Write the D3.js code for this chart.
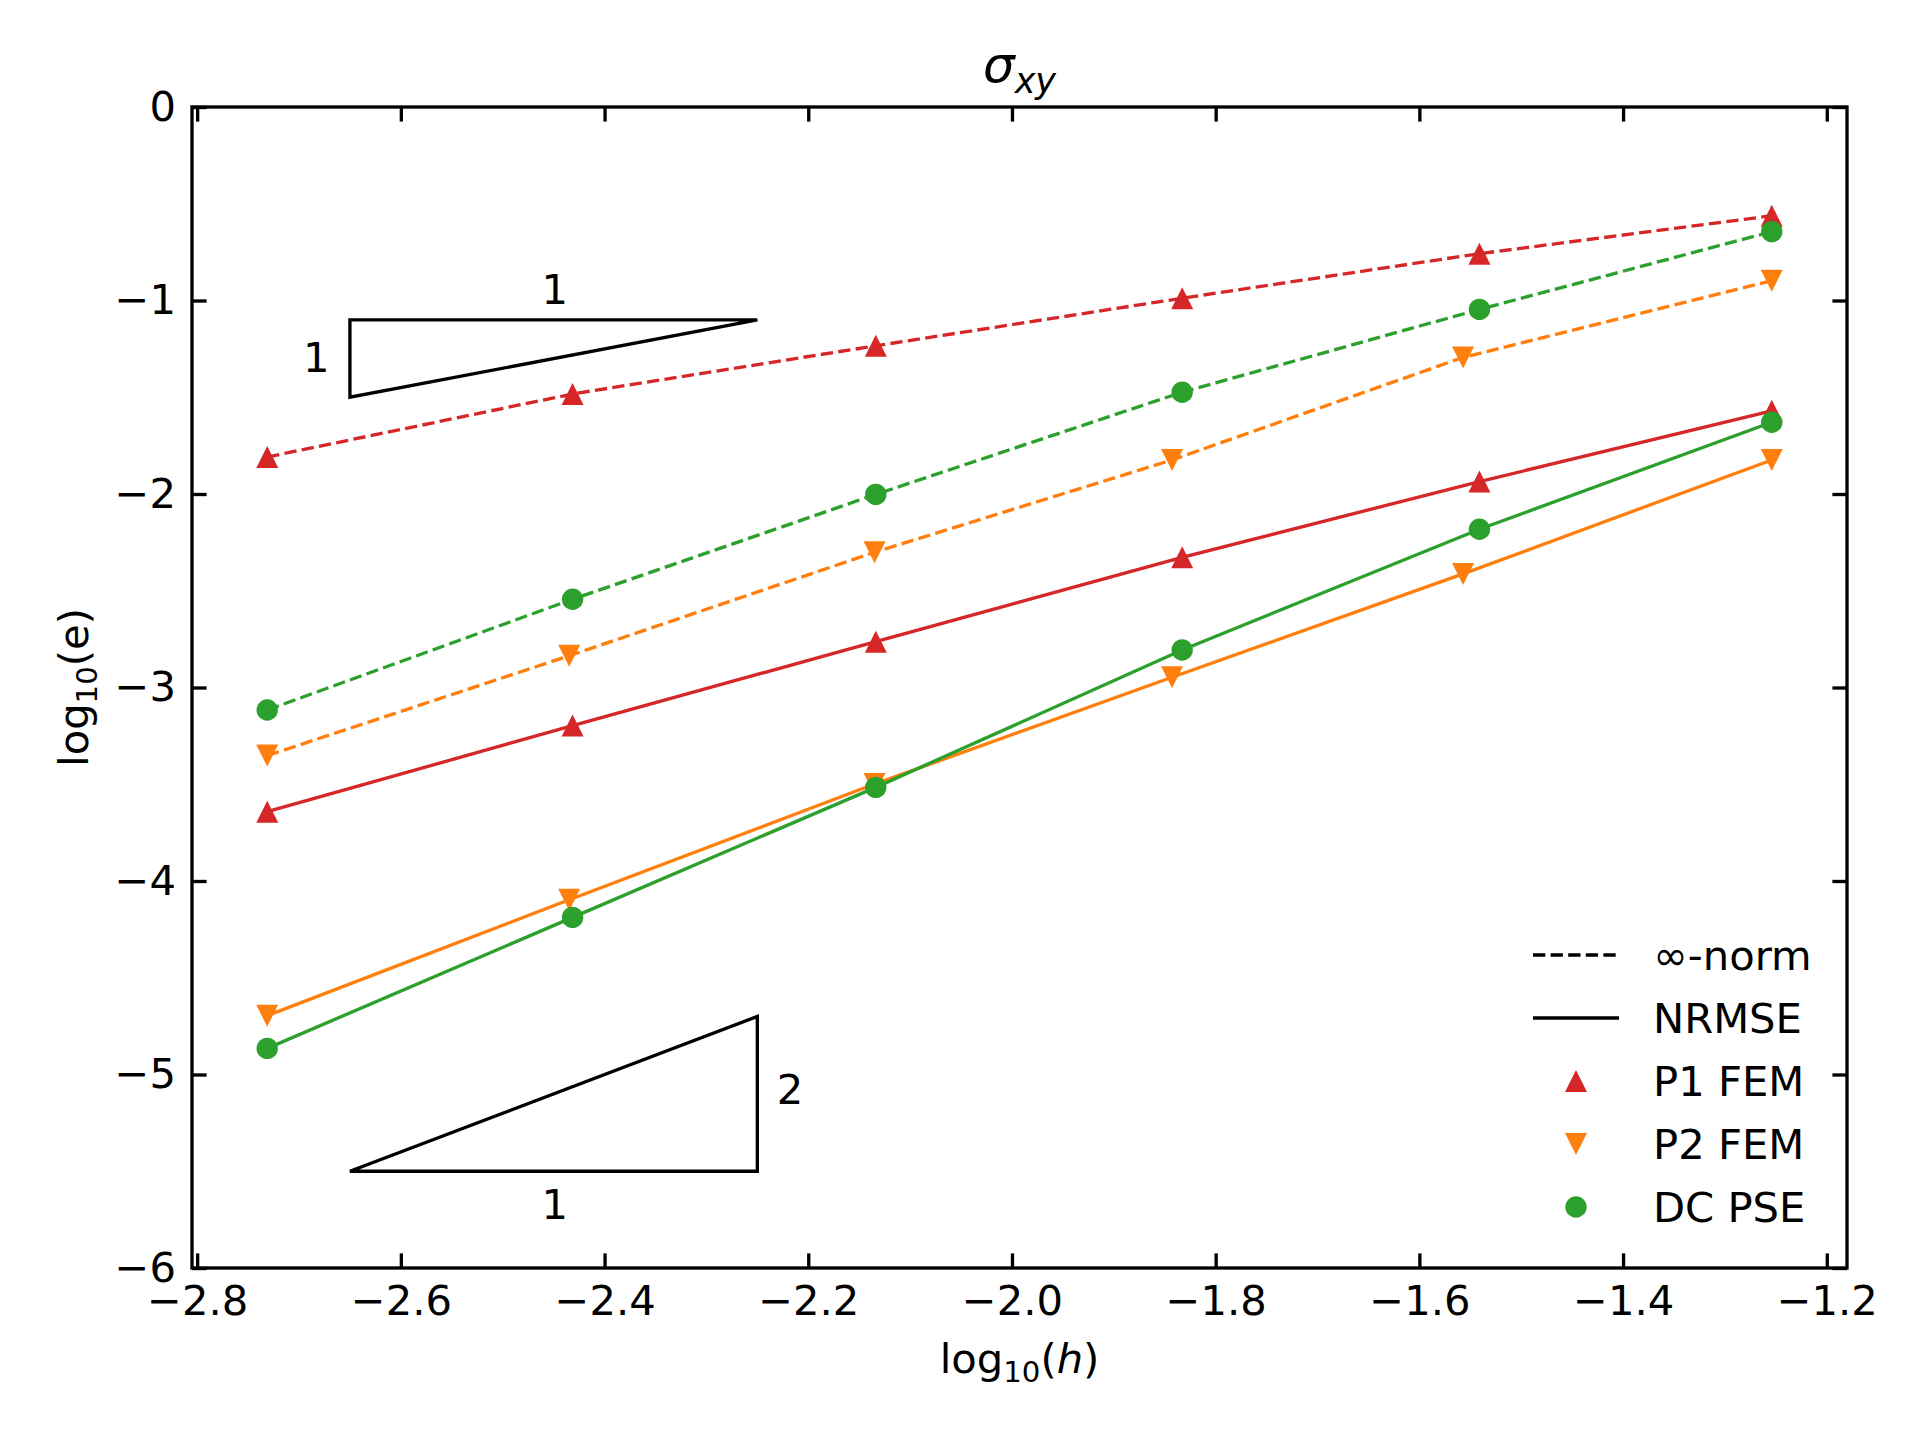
<!DOCTYPE html>
<html>
<head>
<meta charset="utf-8">
<script src="https://cdn.jsdelivr.net/npm/d3@7"></script>
<style>
    body { margin: 0; background: #fff; }
    svg { display: block; }
    text { font-family: "DejaVu Sans", sans-serif; fill: #000; }
</style>
</head>
<body>
<svg id="chart"></svg>
<script>
// log10(h) for each method (P2 FEM meshes differ slightly)
const hP1 = [-2.7312, -2.4314, -2.1337, -1.8329, -1.5410, -1.2540];
const hP2 = [-2.7312, -2.4347, -2.1349, -1.8428, -1.5571, -1.2540];
const hDC = [-2.7312, -2.4314, -2.1337, -1.8329, -1.5410, -1.2540];

// log10(e): infinity-norm and NRMSE
const p1Inf = [-1.809, -1.483, -1.234, -0.988, -0.758, -0.562];
const p1Rms = [-3.642, -3.197, -2.763, -2.327, -1.936, -1.570];
const p2Inf = [-3.352, -2.836, -2.301, -1.824, -1.294, -0.898];
const p2Rms = [-4.696, -4.097, -3.499, -2.947, -2.413, -1.824];
const dcInf = [-3.116, -2.544, -2.002, -1.474, -1.046, -0.644];
const dcRms = [-4.865, -4.188, -3.516, -2.806, -2.182, -1.629];

const xTicks = [-2.8, -2.6, -2.4, -2.2, -2.0, -1.8, -1.6, -1.4, -1.2];
const yTicks = [-6, -5, -4, -3, -2, -1, 0];

// slope triangles: corner points and their labels
const slope1 = [[-2.65, -1.5], [-2.65, -1.1], [-2.25, -1.1]];
const slope2 = [[-2.65, -5.5], [-2.25, -5.5], [-2.25, -4.7]];
const slopeLabels = [
    { x: -2.449, y: -0.940, t: "1" },
    { x: -2.683, y: -1.292, t: "1" },
    { x: -2.218, y: -5.076, t: "2" },
    { x: -2.449, y: -5.668, t: "1" },
];

const W = 1920, H = 1440;
const axL = 192, axR = 1847, axT = 107, axB = 1268;
const fs = 41.7;      // 10pt at 300 dpi
const lw = 3.33;      // 0.8pt
const dash = "12.3,5.3";

const svg = d3.select("#chart").attr("width", W).attr("height", H);
svg.append("rect").attr("width", W).attr("height", H).attr("fill", "#fff");

// x range like matplotlib: 5% margin around the data
let xmin = d3.min(hP1), xmax = d3.max(hP1);
let m = (xmax - xmin) * 0.05;
let scX = d3.scaleLinear().domain([xmin - m, xmax + m]).range([axL, axR]);
let scY = d3.scaleLinear().domain([-6, 0]).range([axB, axT]);

// axes, ticks inward on all four sides
function styleAxis(g) {
    g.select(".domain").remove();
    g.selectAll("line").attr("stroke", "#000").attr("stroke-width", lw);
    g.selectAll("text").style("font-size", fs + "px")
        .style("font-family", "'DejaVu Sans', sans-serif").attr("fill", "#000");
}
svg.append("g").attr("transform", `translate(0,${axB})`)
    .call(d3.axisBottom(scX).tickValues(xTicks).tickSizeInner(-14.6).tickSizeOuter(0)
        .tickPadding(17.4).tickFormat(d3.format(".1f")))
    .call(styleAxis);
svg.append("g").attr("transform", `translate(0,${axT})`)
    .call(d3.axisTop(scX).tickValues(xTicks).tickSizeInner(-14.6).tickSizeOuter(0).tickFormat(""))
    .call(styleAxis);
svg.append("g").attr("transform", `translate(${axL},0)`)
    .call(d3.axisLeft(scY).tickValues(yTicks).tickSizeInner(-14.6).tickSizeOuter(0)
        .tickPadding(16).tickFormat(d3.format("d")))
    .call(styleAxis);
svg.append("g").attr("transform", `translate(${axR},0)`)
    .call(d3.axisRight(scY).tickValues(yTicks).tickSizeInner(-14.6).tickSizeOuter(0).tickFormat(""))
    .call(styleAxis);

// marker shapes (matplotlib style: width == height)
function tri(s, up) {
    let h = s / 2;
    return up ? `M0,${-h}L${h},${h}L${-h},${h}Z` : `M0,${h}L${h},${-h}L${-h},${-h}Z`;
}
function drawMarker(g, kind, color, x, y) {
    if (kind === "circle") {
        g.append("circle").attr("cx", x).attr("cy", y).attr("r", 10.7).attr("fill", color);
    } else {
        g.append("path").attr("d", tri(22, kind === "up"))
            .attr("transform", `translate(${x},${y})`).attr("fill", color);
    }
}

const series = [
    { h: hP1, e: p1Inf, color: "#d62728", marker: "up", dashed: true },
    { h: hP1, e: p1Rms, color: "#d62728", marker: "up", dashed: false },
    { h: hP2, e: p2Inf, color: "#ff7f0e", marker: "down", dashed: true },
    { h: hP2, e: p2Rms, color: "#ff7f0e", marker: "down", dashed: false },
    { h: hDC, e: dcInf, color: "#2ca02c", marker: "circle", dashed: true },
    { h: hDC, e: dcRms, color: "#2ca02c", marker: "circle", dashed: false },
];

let line = d3.line().x(d => scX(d[0])).y(d => scY(d[1]));
series.forEach(s => {
    let pts = s.h.map((v, i) => [v, s.e[i]]);
    let g = svg.append("g");
    g.append("path").attr("d", line(pts))
        .attr("fill", "none").attr("stroke", s.color).attr("stroke-width", lw)
        .attr("stroke-dasharray", s.dashed ? dash : null);
    pts.forEach(p => drawMarker(g, s.marker, s.color, scX(p[0]), scY(p[1])));
});

// slope triangles
[slope1, slope2].forEach(t => {
    svg.append("path").attr("d", line(t) + "Z")
        .attr("fill", "none").attr("stroke", "#000").attr("stroke-width", lw);
});
svg.selectAll(".slopelab").data(slopeLabels).enter().append("text")
    .attr("class", "slopelab")
    .attr("x", d => scX(d.x)).attr("y", d => scY(d.y)).attr("dy", "0.36em")
    .attr("text-anchor", "middle").style("font-size", fs + "px")
    .text(d => d.t);

// frame
svg.append("rect").attr("x", axL).attr("y", axT)
    .attr("width", axR - axL).attr("height", axB - axT)
    .attr("fill", "none").attr("stroke", "#000").attr("stroke-width", lw);

// title
let title = svg.append("text").attr("x", (axL + axR) / 2).attr("y", 82)
    .attr("text-anchor", "middle").style("font-size", "50px").style("font-style", "italic");
title.append("tspan").text("σ");
title.append("tspan").attr("dy", 11).style("font-size", "35px").text("xy");

// x label
let xl = svg.append("text").attr("x", (axL + axR) / 2).attr("y", 1373)
    .attr("text-anchor", "middle").style("font-size", fs + "px");
xl.append("tspan").text("log");
xl.append("tspan").attr("dy", 9).style("font-size", "29.2px").text("10");
xl.append("tspan").attr("dy", -9).text("(");
xl.append("tspan").style("font-style", "italic").text("h");
xl.append("tspan").text(")");

// y label
let yl = svg.append("text")
    .attr("transform", `translate(88,${(axT + axB) / 2}) rotate(-90)`)
    .attr("text-anchor", "middle").style("font-size", fs + "px");
yl.append("tspan").text("log");
yl.append("tspan").attr("dy", 9).style("font-size", "29.2px").text("10");
yl.append("tspan").attr("dy", -9).text("(e)");

// legend
const legendItems = [
    { label: "∞-norm", type: "dashed" },
    { label: "NRMSE", type: "solid" },
    { label: "P1 FEM", type: "up", color: "#d62728" },
    { label: "P2 FEM", type: "down", color: "#ff7f0e" },
    { label: "DC PSE", type: "circle", color: "#2ca02c" },
];
let lg = svg.append("g");
legendItems.forEach((d, i) => {
    let cy = 955 + i * 63;
    if (d.type === "dashed" || d.type === "solid") {
        lg.append("line").attr("x1", 1533).attr("x2", 1619).attr("y1", cy).attr("y2", cy)
            .attr("stroke", "#000").attr("stroke-width", lw)
            .attr("stroke-dasharray", d.type === "dashed" ? dash : null);
    } else {
        drawMarker(lg, d.type, d.color, 1576, cy);
    }
    lg.append("text").attr("x", 1653).attr("y", cy).attr("dy", "0.36em")
        .style("font-size", fs + "px").text(d.label);
});
</script>
</body>
</html>
